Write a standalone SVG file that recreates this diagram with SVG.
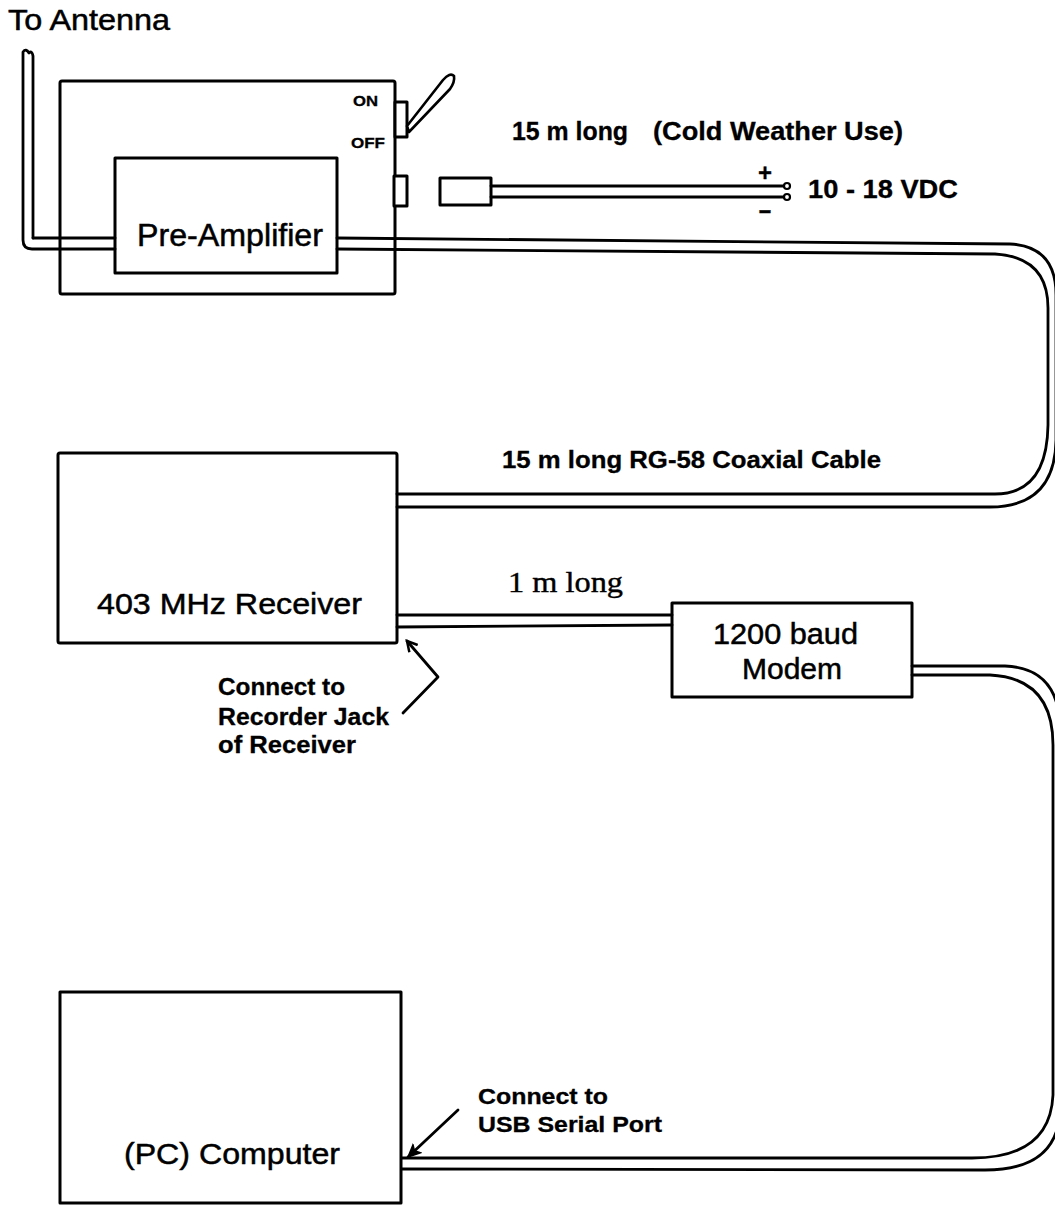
<svg xmlns="http://www.w3.org/2000/svg" width="1055" height="1205" viewBox="0 0 1055 1205">
<style>
.box{fill:#fff;stroke:#000;stroke-width:3;stroke-linejoin:round}
.cable{fill:none;stroke:#000;stroke-width:2.8;stroke-linecap:round;stroke-linejoin:round}
.t{font-family:"Liberation Sans",Arial,sans-serif;fill:#000;stroke:#000;stroke-width:0.5}
.b{font-weight:bold;stroke-width:0.3}
.s{font-family:"Liberation Serif","Times New Roman",serif;fill:#000;stroke:#000;stroke-width:0.4}
</style>
<defs>
<marker id="ah" markerWidth="14" markerHeight="14" refX="11" refY="7" orient="auto" markerUnits="userSpaceOnUse">
<path d="M1 1.5 L11 7 L1 12.5" fill="none" stroke="#000" stroke-width="2.5"/>
</marker>
<marker id="ahf" markerWidth="16" markerHeight="14" refX="13" refY="7" orient="auto" markerUnits="userSpaceOnUse">
<path d="M1 1.5 L13 7 L1 12.5 L4 7 Z" fill="#000" stroke="#000" stroke-width="1.5"/>
</marker>
</defs>
<rect width="1055" height="1205" fill="#fff"/>

<text class="t" x="8" y="30" font-size="29" textLength="162" lengthAdjust="spacingAndGlyphs">To Antenna</text>

<g id="preamp-housing">
<rect class="box" x="60" y="81" width="335" height="213" rx="2"/>
<rect class="box" x="395" y="102" width="12" height="35"/>
<rect class="box" x="394" y="176" width="13" height="30"/>
<path d="M407 126 L443 80 Q450 72 454 76 Q455 82 450 89 L409 132 Z" fill="#fff" stroke="#000" stroke-width="2.6" stroke-linejoin="round"/>
<text class="t b" x="353" y="106" font-size="14" textLength="25" lengthAdjust="spacingAndGlyphs">ON</text>
<text class="t b" x="351" y="148" font-size="14" textLength="34" lengthAdjust="spacingAndGlyphs">OFF</text>
</g>

<g id="preamp">
<rect class="box" x="115" y="158" width="222" height="115"/>
<text class="t" x="137" y="246" font-size="31" textLength="186" lengthAdjust="spacingAndGlyphs">Pre-Amplifier</text>
</g>

<g id="power-plug">
<rect class="box" x="440" y="178" width="51" height="27"/>
</g>

<g id="receiver">
<rect class="box" x="58" y="453" width="339" height="190" rx="2"/>
<text class="t" x="97" y="614" font-size="30" textLength="265" lengthAdjust="spacingAndGlyphs">403 MHz Receiver</text>
</g>

<g id="modem">
<rect class="box" x="672" y="603" width="240" height="94"/>
<text class="t" x="713" y="644" font-size="29" textLength="145" lengthAdjust="spacingAndGlyphs">1200 baud</text>
<text class="t" x="742" y="679" font-size="29" textLength="100" lengthAdjust="spacingAndGlyphs">Modem</text>
</g>

<g id="computer">
<rect class="box" x="60" y="992" width="341" height="211"/>
<text class="t" x="124" y="1164" font-size="30" textLength="216" lengthAdjust="spacingAndGlyphs">(PC) Computer</text>
</g>

<g id="connectors">
<path class="cable" d="M33 238 L33 56 Q32 50 29 53 Q26 48 23 52 L23 240 Q23 249 32 249 L115 249"/>
<path class="cable" d="M33 238 L115 238"/>
<path class="cable" d="M337 238 L1010 244 Q1056 246 1056 295 L1056 440 Q1055 507 990 507 L397 507"/>
<path class="cable" d="M337 249 L995 254 Q1048 257 1048 308 L1048 425 Q1047 494 995 494 L397 494"/>
<path class="cable" d="M491 186 L784 186"/>
<path class="cable" d="M491 197 L784 197"/>
<circle cx="787" cy="186" r="3" fill="#fff" stroke="#000" stroke-width="2.2"/>
<circle cx="787" cy="197" r="3" fill="#fff" stroke="#000" stroke-width="2.2"/>
<path class="cable" d="M397 615 L672 615"/>
<path class="cable" d="M397 627 L672 625"/>
<path class="cable" d="M912 666 L1005 666 Q1060 668 1060 730 L1060 1110 Q1058 1170 985 1170 L402 1169"/>
<path class="cable" d="M912 675 L990 675 Q1053 678 1053 745 L1053 1095 Q1050 1158 972 1158 L402 1158"/>
<path class="cable" d="M403 713 L438 677 L407 641" marker-end="url(#ah)"/>
<path class="cable" d="M458 1110 L408 1157" marker-end="url(#ahf)"/>
</g>

<g id="labels">
<text class="t b" x="512" y="140" font-size="25" textLength="116" lengthAdjust="spacingAndGlyphs">15 m long</text>
<text class="t b" x="653" y="140" font-size="25" textLength="250" lengthAdjust="spacingAndGlyphs">(Cold Weather Use)</text>
<text class="t b" x="758" y="181" font-size="24">+</text>
<text class="t b" x="758" y="218" font-size="24" textLength="14" lengthAdjust="spacingAndGlyphs">-</text>
<text class="t b" x="808" y="198" font-size="26" textLength="150" lengthAdjust="spacingAndGlyphs">10 - 18 VDC</text>
<text class="t b" x="502" y="468" font-size="24" textLength="379" lengthAdjust="spacingAndGlyphs">15 m long RG-58 Coaxial Cable</text>
<text class="s" x="508" y="592" font-size="30" textLength="115" lengthAdjust="spacingAndGlyphs">1 m long</text>
<text class="t b" x="218" y="695" font-size="23" textLength="127" lengthAdjust="spacingAndGlyphs">Connect to</text>
<text class="t b" x="218" y="725" font-size="23" textLength="171" lengthAdjust="spacingAndGlyphs">Recorder Jack</text>
<text class="t b" x="218" y="753" font-size="23" textLength="138" lengthAdjust="spacingAndGlyphs">of Receiver</text>
<text class="t b" x="478" y="1104" font-size="22" textLength="130" lengthAdjust="spacingAndGlyphs">Connect to</text>
<text class="t b" x="478" y="1132" font-size="22" textLength="184" lengthAdjust="spacingAndGlyphs">USB Serial Port</text>
</g>
</svg>
